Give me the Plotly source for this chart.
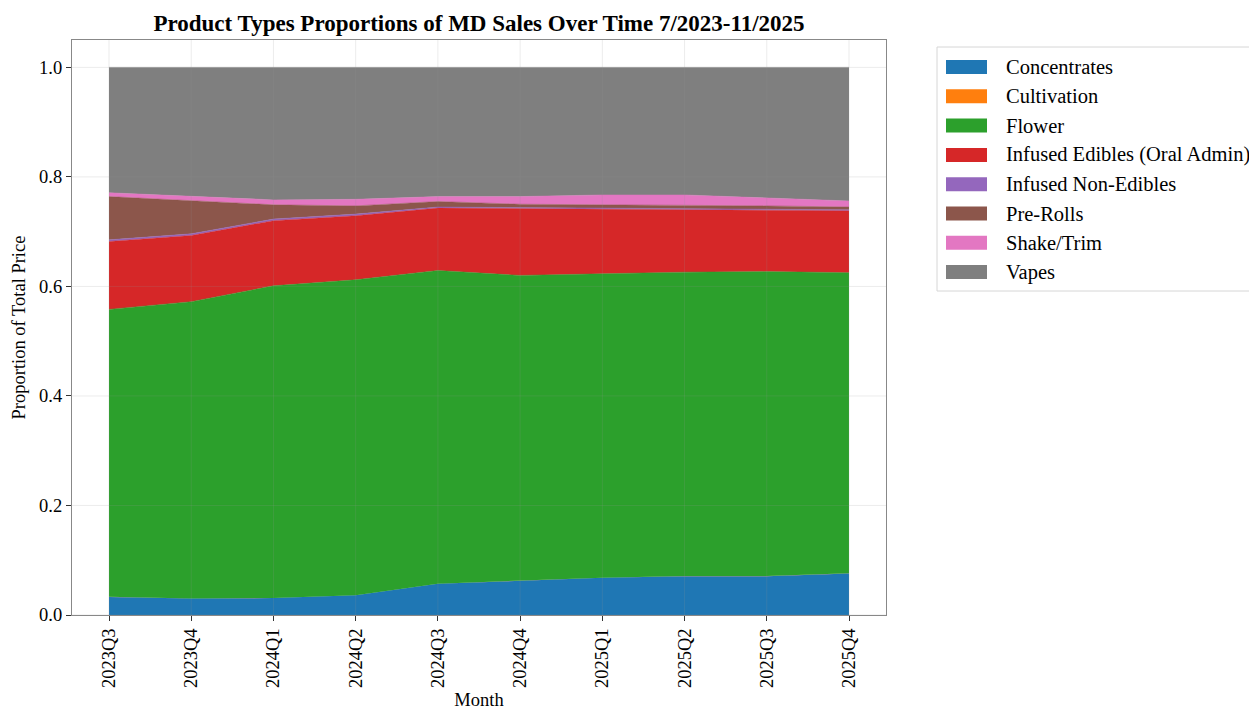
import plotly.graph_objects as go

quarters = ["2023Q3", "2023Q4", "2024Q1", "2024Q2", "2024Q3",
            "2024Q4", "2025Q1", "2025Q2", "2025Q3", "2025Q4"]

concentrates = [0.033, 0.030, 0.031, 0.036, 0.057, 0.062, 0.068, 0.071, 0.071, 0.076]
cultivation = [0.0002, 0.0002, 0.0002, 0.0002, 0.0002, 0.0002, 0.0002, 0.0002, 0.0002, 0.0002]
flower = [0.525, 0.542, 0.570, 0.576, 0.572, 0.558, 0.555, 0.555, 0.556, 0.549]
edibles = [0.124, 0.121, 0.119, 0.117, 0.114, 0.122, 0.119, 0.115, 0.112, 0.113]
non_edibles = [0.003, 0.003, 0.003, 0.003, 0.002, 0.002, 0.002, 0.002, 0.002, 0.002]
pre_rolls = [0.079, 0.061, 0.026, 0.015, 0.010, 0.006, 0.005, 0.006, 0.006, 0.005]
shake_trim = [0.007, 0.007, 0.009, 0.012, 0.009, 0.014, 0.018, 0.018, 0.015, 0.011]
vapes = [0.229, 0.236, 0.242, 0.241, 0.236, 0.236, 0.233, 0.233, 0.238, 0.244]

series = [
    ("Concentrates", concentrates, "#1f77b4"),
    ("Cultivation", cultivation, "#ff7f0e"),
    ("Flower", flower, "#2ca02c"),
    ("Infused Edibles (Oral Admin)", edibles, "#d62728"),
    ("Infused Non-Edibles", non_edibles, "#9467bd"),
    ("Pre-Rolls", pre_rolls, "#8c564b"),
    ("Shake/Trim", shake_trim, "#e377c2"),
    ("Vapes", vapes, "#7f7f7f"),
]

y_ticks = [0.0, 0.2, 0.4, 0.6, 0.8, 1.0]
FONT = "Liberation Serif, Times New Roman, serif"

W, H = 1249, 710
L, R, T, B = 72, 886, 40, 615  # plot area in pixels


def px(x):
    return (x - L) / (R - L)


def py(y):
    return (B - y) / (B - T)


fig = go.Figure()
for name, vals, color in series:
    fig.add_trace(go.Scatter(
        x=quarters, y=vals, name=name, mode="lines",
        stackgroup="one", groupnorm="fraction",
        line=dict(color=color, width=0 if name == "Cultivation" else 0.5),
        fillcolor=color, showlegend=False,
        hoverinfo="x+y+name",
    ))

# faint grid drawn on top of the filled areas
grid = "rgba(150,150,150,0.18)"
shapes = []
for q in quarters:
    shapes.append(dict(type="line", xref="x", yref="paper", x0=q, x1=q, y0=0, y1=1,
                       line=dict(color=grid, width=1), layer="above"))
for yv in y_ticks:
    shapes.append(dict(type="line", xref="paper", yref="y", x0=0, x1=1, y0=yv, y1=yv,
                       line=dict(color=grid, width=1), layer="above"))

# legend box with filled patches
annotations = []
shapes.append(dict(type="rect", xref="paper", yref="paper",
                   x0=px(937), x1=px(1262), y0=py(291), y1=py(47),
                   line=dict(color="#d6d6d6", width=1), fillcolor="white", layer="above"))
for i, (name, vals, color) in enumerate(series):
    yc = 67 + i * 29.3
    shapes.append(dict(type="rect", xref="paper", yref="paper",
                       x0=px(946), x1=px(987), y0=py(yc + 7), y1=py(yc - 7),
                       line=dict(width=0), fillcolor=color, layer="above"))
    annotations.append(dict(text=name, xref="paper", yref="paper",
                            x=px(1004), y=py(yc), xanchor="left", yanchor="middle",
                            showarrow=False,
                            font=dict(family=FONT, size=20.5, color="black")))

fig.update_layout(
    width=W, height=H,
    margin=dict(l=L, r=W - R, t=T, b=H - B),
    paper_bgcolor="white", plot_bgcolor="white",
    font=dict(family=FONT, size=18, color="black"),
    title=dict(text="<b>Product Types Proportions of MD Sales Over Time 7/2023-11/2025</b>",
               x=(L + R) / 2 / W, xanchor="center", y=1 - 23 / H, yanchor="middle",
               font=dict(family=FONT, size=23, color="black")),
    shapes=shapes,
    annotations=annotations,
    showlegend=False,
    xaxis=dict(
        title=dict(text="Month", standoff=8, font=dict(size=18.5)),
        type="category", range=[-0.45, 9.45], automargin=False,
        tickangle=-90, ticks="outside", ticklen=5, tickcolor="#333",
        showgrid=False, zeroline=False,
        showline=True, linecolor="#888", linewidth=1.2, mirror=True,
        tickfont=dict(size=18.5),
    ),
    yaxis=dict(
        title=dict(text="Proportion of Total Price", standoff=8, font=dict(size=18.5)),
        range=[0, 1.05], tickvals=y_ticks, tickformat=".1f", automargin=False,
        ticks="outside", ticklen=5, tickcolor="#333",
        showgrid=False, zeroline=False,
        showline=True, linecolor="#888", linewidth=1.2, mirror=True,
        tickfont=dict(size=18.5),
    ),
)

fig.write_html("out.html")
